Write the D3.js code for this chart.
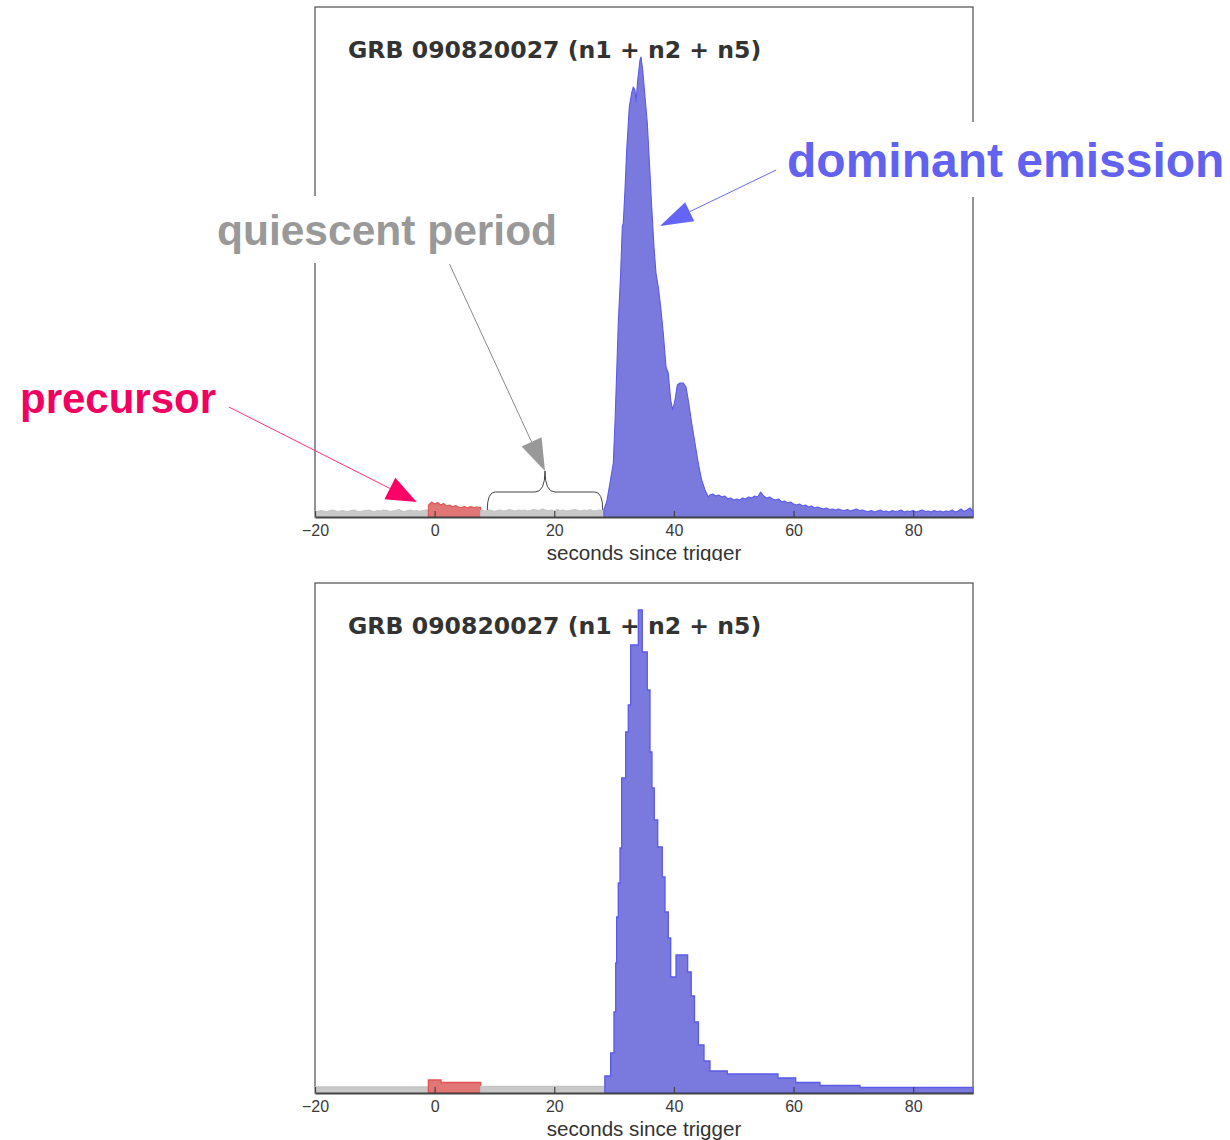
<!DOCTYPE html>
<html>
<head>
<meta charset="utf-8">
<script src="https://cdn.jsdelivr.net/npm/d3@7"></script>
<style>
  html, body { margin: 0; padding: 0; background: #fff; }
  svg { display: block; }
</style>
</head>
<body>
<script>
// ---------------- DATA ----------------
const titleText = "GRB 090820027 (n1 + n2 + n5)";
const xLabel = "seconds since trigger";
const xTicks = [-20, 0, 20, 40, 60, 80];
const xTickLabels = ["\u221220", "0", "20", "40", "60", "80"];
const xDomain = [-20, 90];
const yDomain = [0, 510];   // relative count rate

// segment boundaries (s)
const precursorStart = -1.05;
const precursorEnd = 7.7;
const mainStart = 28.3;

// top panel: fine light curve (0.5 s sampling)
const bgStart = -20, bgStep = 0.5;
const bgBefore = [6.0,5.5,6.5,6.0,5.0,6.5,7.0,6.0,5.5,6.5,6.0,5.5,6.5,7.0,6.0,5.5,6.0,6.5,7.0,6.0,
                  5.5,6.5,6.0,7.0,6.5,5.5,6.0,6.5,7.5,6.0,5.5,6.5,7.0,6.0,6.5,5.5,6.5,7.0];
const precStart = -1.0, precStep = 0.5;
const precursorVals = [12,15,13,14.5,12,13.5,11,12,10,11.5,10,9.5,10.5,9,10.5,9.5,10,9.5];
const quietStart = 8.0, quietStep = 0.5;
const quietVals = [6.5,6.0,7.0,6.5,5.5,6.5,7.0,6.0,6.5,7.5,6.5,6.0,7.0,6.5,7.0,6.0,6.5,7.5,7.0,6.5,
                   8.0,7.0,6.5,7.0,6.0,7.5,6.5,7.0,6.0,6.5,7.0,7.5,6.5,6.0,7.0,6.5,7.5,6.0,6.5,7.0,6.5];
const mainTimes = [28.3,28.4,28.76,29.31,29.87,30.15,30.43,30.70,31.10,31.37,31.54,31.82,32.11,32.54,32.94,
                   33.21,33.49,33.66,33.95,34.33,34.50,34.78,35.17,35.55,35.88,36.29,36.67,37.00,37.39,37.79,
                   38.22,38.68,39.06,39.46,39.80,40.18,40.57,41.02,41.57,42.02,42.40,42.97,43.52,44.07,44.64,
                   45.20,45.75];
const mainVals = [7,9,15,34,54,94,144,194,244,290,294,327,367,410,424,430,427,415,437,457,
                  460,447,420,394,357,310,270,244,230,210,184,150,144,117,107,117,132,134,134,130,
                  117,94,74,54,37,27,20];
const tailStart = 46.0, tailStep = 0.5;
const tailVals = [22,23,21,22,20,21,18,19,17,18,17,19,18,20,19,21,20,25,21,19,
                  20,18,17,18,15,16,14,15,13,12,13,11,12,10,11,9,10,9,8,9,
                  7.5,8,7,8,7,6.5,7.5,6,7,8,6.5,7,6,5.5,6.5,5,6,7,5.5,6,
                  5,6.5,5.5,6,7,5,6,5.5,6.5,5,6,7,5.5,6,5,6.5,5.5,6,5,6,
                  5.5,7,5,6,8,5.5,7,9,6];

// bottom panel: binned (variable-width blocks)
const binEdges = [-20,-1.05,1.07,7.7,28.45,29.43,29.98,30.27,30.43,30.70,30.99,31.27,31.94,32.37,32.77,
                  34.05,34.71,35.55,36.00,36.33,36.72,37.29,38.06,38.51,39.06,39.46,40.35,42.30,42.90,
                  43.44,44.10,45.03,46.03,48.92,57.40,60.36,64.42,71.11,90];
const binHeights = [6,13,10.5,6.5,17,40,81,130,176,210,245,315,361,388,448,483,441,403,341,305,
                    273,246,216,181,155,116,138,121,97,71,48,32,22,19,15,10.5,7.5,5.5];
const binClass = ["bg","pre","pre","bg"].concat(d3.range(binHeights.length - 4).map(() => "main"));

// annotations (data coordinates of top panel)
const annotations = [
  {label: "precursor", color: "#f20060", headColor: "#ff0066", lineColor: "#ff3377",
   from: [-34.4, 110], to: [-3.0, 15], L: 30, W: 12,
   textX: 20, textY: 413, size: 42, box: null},
  {label: "quiescent period", color: "#999999", headColor: "#999999", lineColor: "#888888",
   from: [2.48, 253], to: [18.45, 46], L: 32, W: 11,
   textX: 217, textY: 245, size: 42.5, box: [210, 196, 352, 67]},
  {label: "dominant emission", color: "#6262f0", headColor: "#6464f6", lineColor: "#6a6af6",
   from: [57.1, 347], to: [37.67, 291], L: 33, W: 10.5,
   textX: 787, textY: 177, size: 48, box: [779, 122, 451, 75]}
];
const brace = {t0: 8.8, t1: 28.1, tm: 18.45, vEnd: 7, vLevel: 25, vTip: 46};

// ---------------- STYLE ----------------
const colors = {
  bg:   {fill: "#c9c9c9", stroke: "#c4c4c4"},
  pre:  {fill: "#e07676", stroke: "#e25252"},
  main: {fill: "#7a7ade", stroke: "#5a5ae8"}
};

const W = 1230, H = 1140;
const svg = d3.select("body").append("svg").attr("width", W).attr("height", H)
  .style("font-family", "'Liberation Sans', Arial, sans-serif");

const defs = svg.append("defs");
defs.append("clipPath").attr("id", "clipTopLabel")
  .append("rect").attr("x", 0).attr("y", 0).attr("width", W).attr("height", 561);

const x = d3.scaleLinear().domain(xDomain).range([315, 973]);

function seq(start, step, vals) { return vals.map((v, i) => [start + i * step, v]); }

// top panel segments
const segBg1 = seq(bgStart, bgStep, bgBefore);
segBg1.push([precursorStart, bgBefore[bgBefore.length - 1]]);
const segPre = [[precursorStart, precursorVals[0]]].concat(seq(precStart, precStep, precursorVals));
segPre.push([precursorEnd, precursorVals[precursorVals.length - 1]]);
const segQuiet = [[precursorEnd, quietVals[0]]].concat(seq(quietStart, quietStep, quietVals));
segQuiet.push([mainStart, quietVals[quietVals.length - 1]]);
const segMain = mainTimes.map((t, i) => [t, mainVals[i]]).concat(seq(tailStart, tailStep, tailVals));
const topSegments = [
  {cls: "bg", pts: segBg1}, {cls: "pre", pts: segPre},
  {cls: "bg", pts: segQuiet}, {cls: "main", pts: segMain}
];

// bottom panel segments (group consecutive bins by class)
const bottomSegments = [];
binHeights.forEach((h, i) => {
  const cls = binClass[i];
  let seg = bottomSegments[bottomSegments.length - 1];
  if (!seg || seg.cls !== cls) { seg = {cls, bins: []}; bottomSegments.push(seg); }
  seg.bins.push([binEdges[i], binEdges[i + 1], h]);
});

function drawPanel(top, bottom, mode) {
  const y = d3.scaleLinear().domain(yDomain).range([bottom, top]);
  const g = svg.append("g");

  // frame (left, top, right)
  g.append("rect").attr("x", x(xDomain[0])).attr("y", top)
    .attr("width", x(xDomain[1]) - x(xDomain[0])).attr("height", bottom - top)
    .attr("fill", "none").attr("stroke", "#5a5a5a").attr("stroke-width", 1.3);

  // title (drawn below data)
  g.append("text").attr("x", 348).attr("y", top + 51)
    .attr("font-family", "'DejaVu Sans', sans-serif").attr("font-weight", "bold")
    .attr("font-size", 23.6).attr("fill", "#333").text(titleText);

  if (mode === "fine") {
    const area = d3.area().x(d => x(d[0])).y0(y(0)).y1(d => y(d[1])).curve(d3.curveLinear);
    topSegments.forEach(s => {
      g.append("path").attr("d", area(s.pts))
        .attr("fill", colors[s.cls].fill).attr("stroke", colors[s.cls].stroke)
        .attr("stroke-width", 1.1).attr("stroke-linejoin", "round");
    });
  } else {
    const area = d3.area().x(d => x(d[0])).y0(y(0)).y1(d => y(d[1])).curve(d3.curveStepAfter);
    bottomSegments.forEach(s => {
      const pts = s.bins.map(b => [b[0], b[2]]);
      const last = s.bins[s.bins.length - 1];
      pts.push([last[1], last[2]]);
      g.append("path").attr("d", area(pts))
        .attr("fill", colors[s.cls].fill).attr("stroke", colors[s.cls].stroke)
        .attr("stroke-width", 1.3);
    });
  }

  // bottom axis
  const axis = d3.axisBottom(x).tickValues(xTicks).tickFormat((d, i) => xTickLabels[i])
    .tickSize(0).tickPadding(8);
  const ag = g.append("g").attr("transform", `translate(0,${bottom})`).call(axis);
  ag.select(".domain").attr("stroke", "#444").attr("stroke-width", 2);
  ag.selectAll(".tick text").attr("font-size", 16).attr("fill", "#3a3a3a")
    .attr("font-family", "'Liberation Sans', Arial, sans-serif");
  ag.selectAll(".tick").append("line").attr("y1", 0).attr("y2", -6)
    .attr("stroke", "#444").attr("stroke-width", 1.2);

  const lab = g.append("text").attr("x", 644).attr("y", bottom + 43)
    .attr("text-anchor", "middle").attr("font-size", 20.6).attr("fill", "#333").text(xLabel);
  if (mode === "fine") lab.attr("clip-path", "url(#clipTopLabel)");
  return y;
}

const yTop = drawPanel(7, 517, "fine");
drawPanel(583, 1093, "binned");

// ---------------- ANNOTATIONS (top panel) ----------------
const ann = svg.append("g");
annotations.forEach(a => {
  const x1 = x(a.from[0]), y1 = yTop(a.from[1]);
  const x2 = x(a.to[0]), y2 = yTop(a.to[1]);
  const dx = x2 - x1, dy = y2 - y1, len = Math.hypot(dx, dy);
  const ux = dx / len, uy = dy / len;
  const bx = x2 - ux * a.L, by = y2 - uy * a.L;
  const nx = -uy, ny = ux;
  if (a.box) {
    ann.append("rect").attr("x", a.box[0]).attr("y", a.box[1])
      .attr("width", a.box[2]).attr("height", a.box[3]).attr("fill", "#fff");
  }
  ann.append("line").attr("x1", x1).attr("y1", y1).attr("x2", bx).attr("y2", by)
    .attr("stroke", a.lineColor).attr("stroke-width", 1);
  ann.append("path")
    .attr("d", `M${x2},${y2}L${bx + nx * a.W},${by + ny * a.W}L${bx - nx * a.W},${by - ny * a.W}Z`)
    .attr("fill", a.headColor);
  ann.append("text").attr("x", a.textX).attr("y", a.textY)
    .attr("font-family", "'Liberation Sans', Arial, sans-serif").attr("font-weight", "bold")
    .attr("font-size", a.size).attr("fill", a.color).text(a.label);
});

// curly brace over the quiescent period
{
  const x0 = x(brace.t0), x1 = x(brace.t1), xm = x(brace.tm);
  const yb = yTop(brace.vEnd), yl = yTop(brace.vLevel), yt = yTop(brace.vTip);
  const d = `M${x0},${yb} Q${x0},${yl} ${x0 + 8},${yl} L${xm - 10},${yl} Q${xm},${yl} ${xm},${yt}` +
            ` Q${xm},${yl} ${xm + 10},${yl} L${x1 - 8},${yl} Q${x1},${yl} ${x1},${yb}`;
  ann.append("path").attr("d", d).attr("fill", "none").attr("stroke", "#444").attr("stroke-width", 1);
}
</script>
</body>
</html>
